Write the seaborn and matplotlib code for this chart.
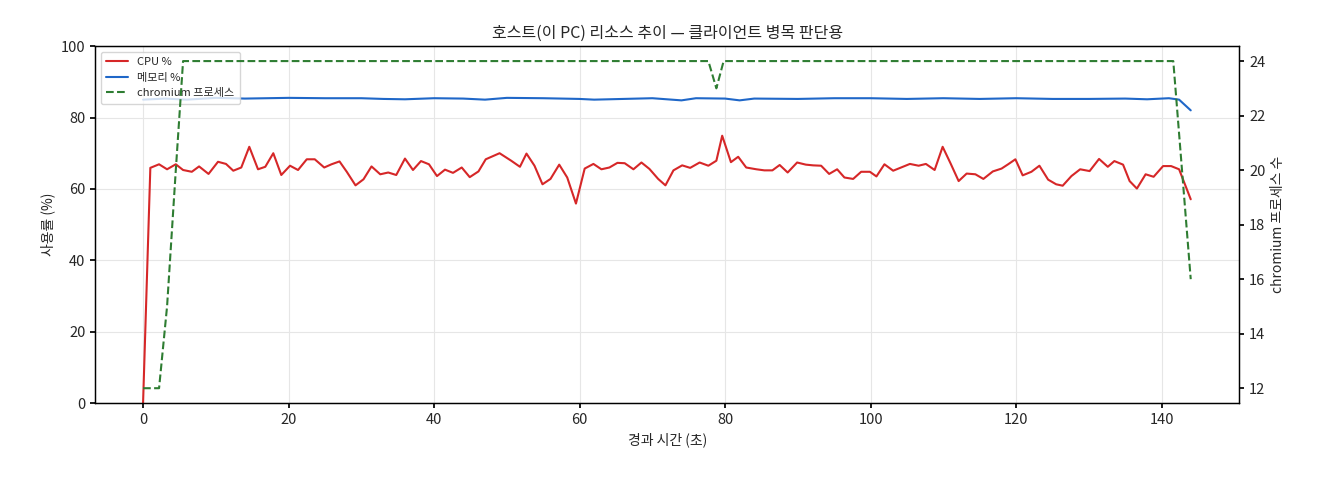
import numpy as np
import pandas as pd
import seaborn as sns
import matplotlib
matplotlib.use("Agg")
import matplotlib.pyplot as plt

# sample times (s) and CPU %
cpu_t = [0, 1.0, 2.2, 3.3, 4.5, 5.5, 6.7, 7.7, 9.0, 10.3, 11.4, 12.4, 13.5, 14.6, 15.8, 16.8,
         17.9, 19.0, 20.2, 21.3, 22.5, 23.6, 24.9, 25.9, 27.0, 28.0, 29.2, 30.3, 31.4, 32.6,
         33.7, 34.8, 36.0, 37.1, 38.2, 39.3, 40.4, 41.5, 42.6, 43.8, 44.9, 46.1, 47.1, 48.1,
         49.0, 50.6, 51.8, 52.7, 53.8, 54.9, 56.0, 57.2, 58.3, 59.5, 60.7, 61.9, 63.0, 64.1,
         65.2, 66.2, 67.4, 68.5, 69.6, 70.8, 71.8, 72.9, 74.1, 75.2, 76.5, 77.7, 78.8, 79.6,
         80.8, 81.8, 82.9, 84.3, 85.4, 86.5, 87.5, 88.6, 89.9, 91.1, 92.1, 93.2, 94.3, 95.4,
         96.4, 97.6, 98.7, 99.9, 100.8, 101.9, 103.1, 104.2, 105.4, 106.6, 107.6, 108.8, 109.9,
         111.0, 112.1, 113.2, 114.4, 115.5, 116.8, 118.0, 118.9, 119.9, 120.9, 122.1, 123.2,
         124.4, 125.5, 126.4, 127.6, 128.8, 130.1, 131.4, 132.6, 133.5, 134.7, 135.6, 136.6,
         137.8, 138.9, 140.2, 141.3, 142.4, 144.0]
cpu = [0, 65.9, 66.9, 65.5, 66.9, 65.3, 64.8, 66.3, 64.2, 67.6, 67.0, 65.1, 66.0, 71.8, 65.5, 66.2,
       70.0, 63.9, 66.5, 65.3, 68.3, 68.3, 66.0, 66.9, 67.7, 64.8, 61.0, 62.7, 66.3, 64.1,
       64.6, 63.9, 68.5, 65.3, 67.8, 66.9, 63.6, 65.4, 64.5, 66.0, 63.3, 64.9, 68.3, 69.2,
       70.0, 67.9, 66.2, 69.9, 66.5, 61.3, 62.8, 66.8, 63.2, 55.9, 65.7, 67.0, 65.5, 66.0,
       67.3, 67.2, 65.5, 67.4, 65.6, 62.8, 61.0, 65.2, 66.6, 65.9, 67.4, 66.5, 67.9, 74.9,
       67.5, 69.0, 66.0, 65.5, 65.2, 65.2, 66.7, 64.6, 67.4, 66.8, 66.6, 66.5, 64.2, 65.5,
       63.2, 62.8, 64.8, 64.8, 63.5, 66.9, 65.1, 66.0, 67.0, 66.5, 67.0, 65.3, 71.8,
       67.1, 62.2, 64.3, 64.1, 62.8, 64.9, 65.7, 66.9, 68.3, 63.8, 64.8, 66.5,
       62.6, 61.3, 60.9, 63.6, 65.5, 65.0, 68.4, 66.2, 67.8, 66.8, 62.2, 60.1,
       64.1, 63.4, 66.4, 66.4, 65.5, 57.1]

mem_t = [0, 3, 6, 10, 14, 20, 25, 30, 33, 36, 40, 44, 47, 50, 55, 60, 62, 66, 70, 74, 76,
         80, 82, 84, 90, 95, 100, 105, 110, 115, 120, 125, 130, 135, 138, 141, 142.4, 144.0]
mem = [85.0, 85.3, 85.0, 85.5, 85.3, 85.5, 85.4, 85.4, 85.2, 85.1, 85.4, 85.3, 85.0, 85.5,
       85.4, 85.2, 85.0, 85.2, 85.4, 84.8, 85.4, 85.3, 84.8, 85.3, 85.2, 85.4, 85.4, 85.2,
       85.4, 85.2, 85.4, 85.2, 85.2, 85.3, 85.1, 85.4, 85.0, 82.0]

chrom_t = [0, 1.0, 2.2, 3.3, 4.5, 5.5, 77.7, 78.8, 79.8, 141.6, 144.0]
chrom = [12, 12, 12, 15, 20, 24, 24, 23, 24, 24, 16]

sns.set_theme(style="white")
plt.rcParams["font.family"] = ["Noto Sans CJK KR", "DejaVu Sans"]

fig = plt.figure(figsize=(13.2, 4.8), dpi=100)
ax = fig.add_axes([0.072, 0.16, 0.867, 0.744])
ax2 = ax.twinx()

sns.lineplot(x=cpu_t, y=cpu, ax=ax, color="#d62728", lw=1.5, label="CPU %", legend=False)
sns.lineplot(x=mem_t, y=mem, ax=ax, color="#1f67c8", lw=1.5, label="메모리 %", legend=False)
sns.lineplot(x=chrom_t, y=chrom, ax=ax2, color="#2e7d32", lw=1.5, ls="--",
             label="chromium 프로세스", legend=False)

ax.set_xlim(-6.6, 150.7)
ax.set_ylim(0, 100)
ax2.set_ylim(11.45, 24.55)
ax.grid(True, color="#e6e6e6", lw=0.8)
for a in (ax, ax2):
    for s in a.spines.values():
        s.set_color("black")
        s.set_linewidth(0.9)
    a.tick_params(axis="both", length=3.5, color="black", labelsize=10.5, direction="out",
                  left=a is ax, right=a is ax2, bottom=True)

ax.set_xlabel("경과 시간 (초)", fontsize=10)
ax.set_ylabel("사용률 (%)", fontsize=10)
ax2.set_ylabel("chromium 프로세스 수", fontsize=10)
ax.set_title("호스트(이 PC) 리소스 추이 — 클라이언트 병목 판단용", fontsize=11.5)

h1, l1 = ax.get_legend_handles_labels()
h2, l2 = ax2.get_legend_handles_labels()
ax.legend(h1 + h2, l1 + l2, loc="upper left", fontsize=8, frameon=True, borderpad=0.5)

fig.savefig("out.png", dpi=100)
